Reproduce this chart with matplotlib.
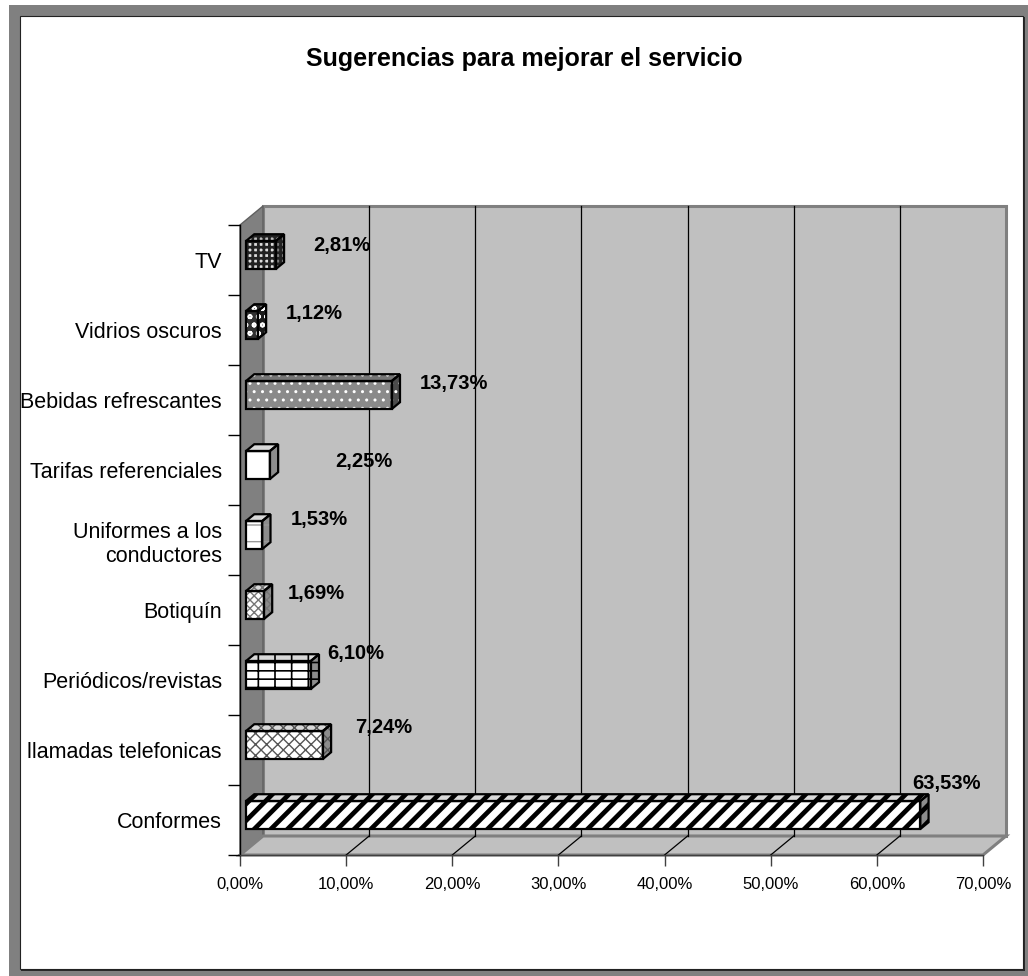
import matplotlib
matplotlib.use("Agg")
import matplotlib.pyplot as plt
from matplotlib.patches import Polygon, Rectangle
import numpy as np

plt.rcParams['font.family'] = ['Liberation Sans', 'DejaVu Sans']

# ---------------- data ----------------
categories = ["Conformes", "llamadas telefonicas", "Periódicos/revistas", "Botiquín",
              "Uniformes a los\nconductores", "Tarifas referenciales",
              "Bebidas refrescantes", "Vidrios oscuros", "TV"]
values = [63.53, 7.24, 6.10, 1.69, 1.53, 2.25, 13.73, 1.12, 2.81]
x_ticks = [0, 10, 20, 30, 40, 50, 60, 70]
title = "Sugerencias para mejorar el servicio"

# ---------------- styles (per bar) ----------------
# (front face colour, hatch, hatch colour)
styles = [
    ("white", "//", "black"),
    ("white", "xxx", "#555555"),
    ("white", "+-", "black"),
    ("white", "xxxx", "#777777"),
    ("white", "-", "#999999"),
    ("white", "", "black"),
    ("#8a8a8a", "..", "white"),
    ("#303030", "oo", "white"),
    ("#dddddd", "+++", "#222222"),
]
hatch_lw = [3.4, 1.0, 1.2, 1.0, 1.0, 1.0, 1.0, 1.2, 2.0]
# label offsets in pixels (dx, dy) relative to bar end / category centre
label_off = [(-2, 36), (38, 22), (23, 26), (30, 16), (35, 20), (71, 9),
             (34, 16), (34, 16), (43, 15)]

W, H = 1028, 976
fig = plt.figure(figsize=(W / 100, H / 100), dpi=100)
fig.patch.set_facecolor("white")

# frame (background axes)
bg = fig.add_axes([0, 0, 1, 1], zorder=-10)
bg.set_xlim(0, W)
bg.set_ylim(H, 0)
bg.axis("off")
bg.add_patch(Rectangle((9, 5), W - 9, H - 5, facecolor="#808080", edgecolor="none"))
bg.add_patch(Rectangle((21, 17), 1004, 954, facecolor="#2a2a2a", edgecolor="none"))
bg.add_patch(Rectangle((20, 16), 1003, 953, facecolor="white", edgecolor="#222222", linewidth=0.8))

ax = fig.add_axes([240 / W, 1 - 855 / H, 743 / W, 630 / H])
ax.set_xlim(0, 70)
ax.set_ylim(-0.5, len(categories) - 0.5)
ax.patch.set_visible(False)

# depth offsets in data units
px_x = 743 / 70.0
px_y = 630 / len(categories)
DX = 23 / px_x
DY = 19 / px_y
y0, y1 = -0.5, len(categories) - 0.5
xmax = 70


def P(x, y, f):
    return (x + f * DX, y + f * DY)


def poly(pts, **kw):
    p = Polygon(pts, closed=True, clip_on=False, **kw)
    ax.add_patch(p)
    return p


# walls
poly([P(0, y0, 1), P(xmax, y0, 1), P(xmax, y1, 1), P(0, y1, 1)],
     facecolor="#c0c0c0", edgecolor="#808080", linewidth=2.2, zorder=1)
poly([P(0, y0, 0), P(0, y0, 1), P(0, y1, 1), P(0, y1, 0)],
     facecolor="#808080", edgecolor="#606060", linewidth=1.0, zorder=1)
poly([P(0, y0, 0), P(xmax, y0, 0), P(xmax, y0, 1), P(0, y0, 1)],
     facecolor="#c0c0c0", edgecolor="#808080", linewidth=2.2, zorder=1)

# gridlines
for t in x_ticks[1:-1]:
    a, b = P(t, y0, 1), P(t, y1, 1)
    ax.plot([a[0], b[0]], [a[1], b[1]], color="black", lw=0.9, zorder=2, clip_on=False)
    a, b = P(t, y0, 0), P(t, y0, 1)
    ax.plot([a[0], b[0]], [a[1], b[1]], color="black", lw=0.9, zorder=2, clip_on=False)

# bars
f1, f2 = 0.26, 0.62
hw = 0.2


def shade(c, k):
    rgb = np.array(matplotlib.colors.to_rgb(c))
    return tuple(rgb * k)


for i, (v, st) in enumerate(zip(values, styles)):
    fc, hatch, hc = st
    faces = [
        ([P(0, i - hw, f1), P(v, i - hw, f1), P(v, i + hw, f1), P(0, i + hw, f1)], fc),
        ([P(0, i + hw, f1), P(v, i + hw, f1), P(v, i + hw, f2), P(0, i + hw, f2)], shade(fc, 0.85)),
        ([P(v, i - hw, f1), P(v, i + hw, f1), P(v, i + hw, f2), P(v, i - hw, f2)], shade(fc, 0.55)),
    ]
    for pts, c in faces:
        p = poly(pts, facecolor=c, edgecolor=hc, linewidth=0, hatch=hatch or None, zorder=3)
        if hasattr(p, "set_hatch_linewidth"):
            p.set_hatch_linewidth(hatch_lw[i])
        poly(pts, facecolor="none", edgecolor="black", linewidth=1.6, zorder=4)

# data labels
for i, v in enumerate(values):
    s = f"{v:.2f}%".replace(".", ",")
    ax.annotate(s, xy=(v, i), xytext=label_off[i], textcoords="offset pixels",
                ha="left", va="center", fontsize=14.5, fontweight="bold", zorder=6,
                annotation_clip=False)

# axes
for s in ["top", "right"]:
    ax.spines[s].set_visible(False)
ax.spines["left"].set_color("black")
ax.spines["left"].set_linewidth(1.0)
ax.spines["bottom"].set_color("#404040")
ax.spines["bottom"].set_linewidth(1.0)
ax.spines["left"].set_zorder(5)
ax.spines["bottom"].set_zorder(5)

ax.set_xticks(x_ticks)
ax.set_xticklabels([f"{t:.2f}%".replace(".", ",") for t in x_ticks], fontsize=12)
ax.tick_params(axis="x", direction="out", length=8, width=1, color="#404040", pad=8)

ax.set_yticks(range(len(categories)))
ax.set_yticklabels(categories, fontsize=15.5, linespacing=1.2)
ax.set_yticks(np.arange(-0.5, len(categories), 1.0), minor=True)
ax.tick_params(axis="y", which="major", length=0, pad=13)
ax.tick_params(axis="y", which="minor", direction="out", length=9, width=1, color="black")

fig.text(524 / W, 1 - 59 / H, title, ha="center", va="center", fontsize=18, fontweight="bold")

fig.savefig("out.png", dpi=100)
